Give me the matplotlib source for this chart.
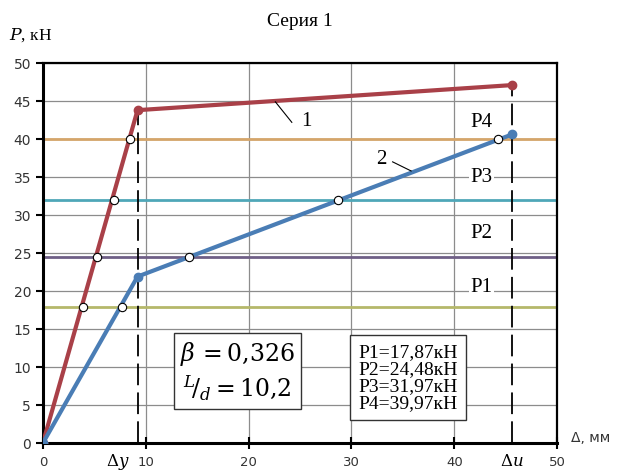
import matplotlib
matplotlib.use('Agg')
import matplotlib.pyplot as plt

# Серия 1: диаграмма нагрузка - перемещение
curve1_x = [0, 9.2, 45.6]
curve1_y = [0, 43.8, 47.1]
curve2_x = [0, 9.2, 45.6]
curve2_y = [0, 21.9, 40.6]

# уровни нагрузки P1..P4
levels = [17.87, 24.48, 31.97, 39.97]
level_names = ['P1', 'P2', 'P3', 'P4']
level_colors = ['#b5b86a', '#6f5f86', '#4fa7b8', '#d5a56a']

# точки пересечения с уровнями
cross1_x = [3.86, 5.22, 6.94, 8.46]
cross2_x = [7.72, 14.2, 28.7, 44.2]

dy = 9.2
du = 45.6

fig = plt.figure(figsize=(6.31, 4.72), dpi=100)
ax = fig.add_axes([0.068, 0.0614, 0.815, 0.805])

ax.set_xlim(0, 50)
ax.set_ylim(0, 50)
ax.set_xticks([0, 10, 20, 30, 40, 50])
ax.set_yticks(range(0, 51, 5))
ax.grid(True, color='#8c8c8c', lw=0.9)
ax.set_axisbelow(True)
for s in ax.spines.values():
    s.set_linewidth(1.6)
    s.set_color('black')
ax.spines['left'].set_linewidth(2.2)
ax.spines['bottom'].set_linewidth(2.2)
ax.tick_params(axis='x', direction='inout', length=8, width=1.5, labelsize=9.5,
               pad=5, colors='black', labelcolor='#333333')
ax.tick_params(axis='y', direction='out', length=5, width=1.5, labelsize=10,
               colors='black', labelcolor='#333333')

for val, col in zip(levels, level_colors):
    ax.axhline(val, color=col, lw=2.0, zorder=2)

ax.plot([dy, dy], [0, 43.8], color='black', lw=1.3, dashes=(12, 4), zorder=3)
ax.plot([du, du], [0, 47.1], color='black', lw=1.3, dashes=(12, 4), zorder=3)

ax.plot(curve1_x, curve1_y, color='#a94048', lw=3.0, marker='o', ms=6, zorder=4)
ax.plot(curve2_x, curve2_y, color='#4a7db5', lw=3.0, marker='o', ms=6, zorder=4)

ax.plot(cross1_x, levels, 'o', mfc='white', mec='black', mew=0.8, ms=6, zorder=5)
ax.plot(cross2_x, levels, 'o', mfc='white', mec='black', mew=0.8, ms=6, zorder=5)

serif = 'Liberation Serif'
label_y = [20.5, 27.6, 35.0, 42.2]
for name, yy in zip(level_names, label_y):
    ax.text(42.6, yy, name, fontsize=15, family=serif, ha='center', va='center',
            zorder=6, bbox=dict(fc='white', ec='none', pad=1))

ax.plot([22.6, 24.2], [44.9, 42.2], color='black', lw=0.8, zorder=6)
ax.text(25.6, 42.3, '1', fontsize=15, family=serif, ha='center', va='center')
ax.plot([34.0, 35.8], [37.0, 35.8], color='black', lw=0.8, zorder=6)
ax.text(32.9, 37.3, '2', fontsize=15, family=serif, ha='center', va='center')

ax.text(18.9, 9.4, r'$\beta\,=0{,}326$' + '\n' + r'$^{L}\!/_{d}=10{,}2$',
        fontsize=17, ha='center', va='center', linespacing=1.25,
        math_fontfamily='dejavuserif', zorder=6,
        bbox=dict(fc='white', ec='#333333', lw=1.0, pad=4))

ax.text(35.5, 8.6, 'P1=17,87кН\nP2=24,48кН\nP3=31,97кН\nP4=39,97кН',
        fontsize=14, family=serif, ha='center', va='center', linespacing=1.0,
        zorder=6, bbox=dict(fc='white', ec='#333333', lw=1.0, pad=6))

fig.text(0.475, 0.955, 'Серия 1', fontsize=14, family=serif, ha='center', va='center')
fig.text(0.015, 0.925, r'$P$, кН', fontsize=12.5, family=serif, ha='left', va='center',
         math_fontfamily='dejavuserif')
fig.text(0.905, 0.072, 'Δ, мм', fontsize=10, family='DejaVu Sans', ha='left',
         va='center', color='#333333')
fig.text(0.187, 0.022, r'$\Delta y$', fontsize=12, ha='center', va='center',
         math_fontfamily='dejavuserif')
fig.text(0.811, 0.024, r'$\Delta u$', fontsize=12, ha='center', va='center',
         math_fontfamily='dejavuserif')

fig.savefig('out.png', dpi=100)
